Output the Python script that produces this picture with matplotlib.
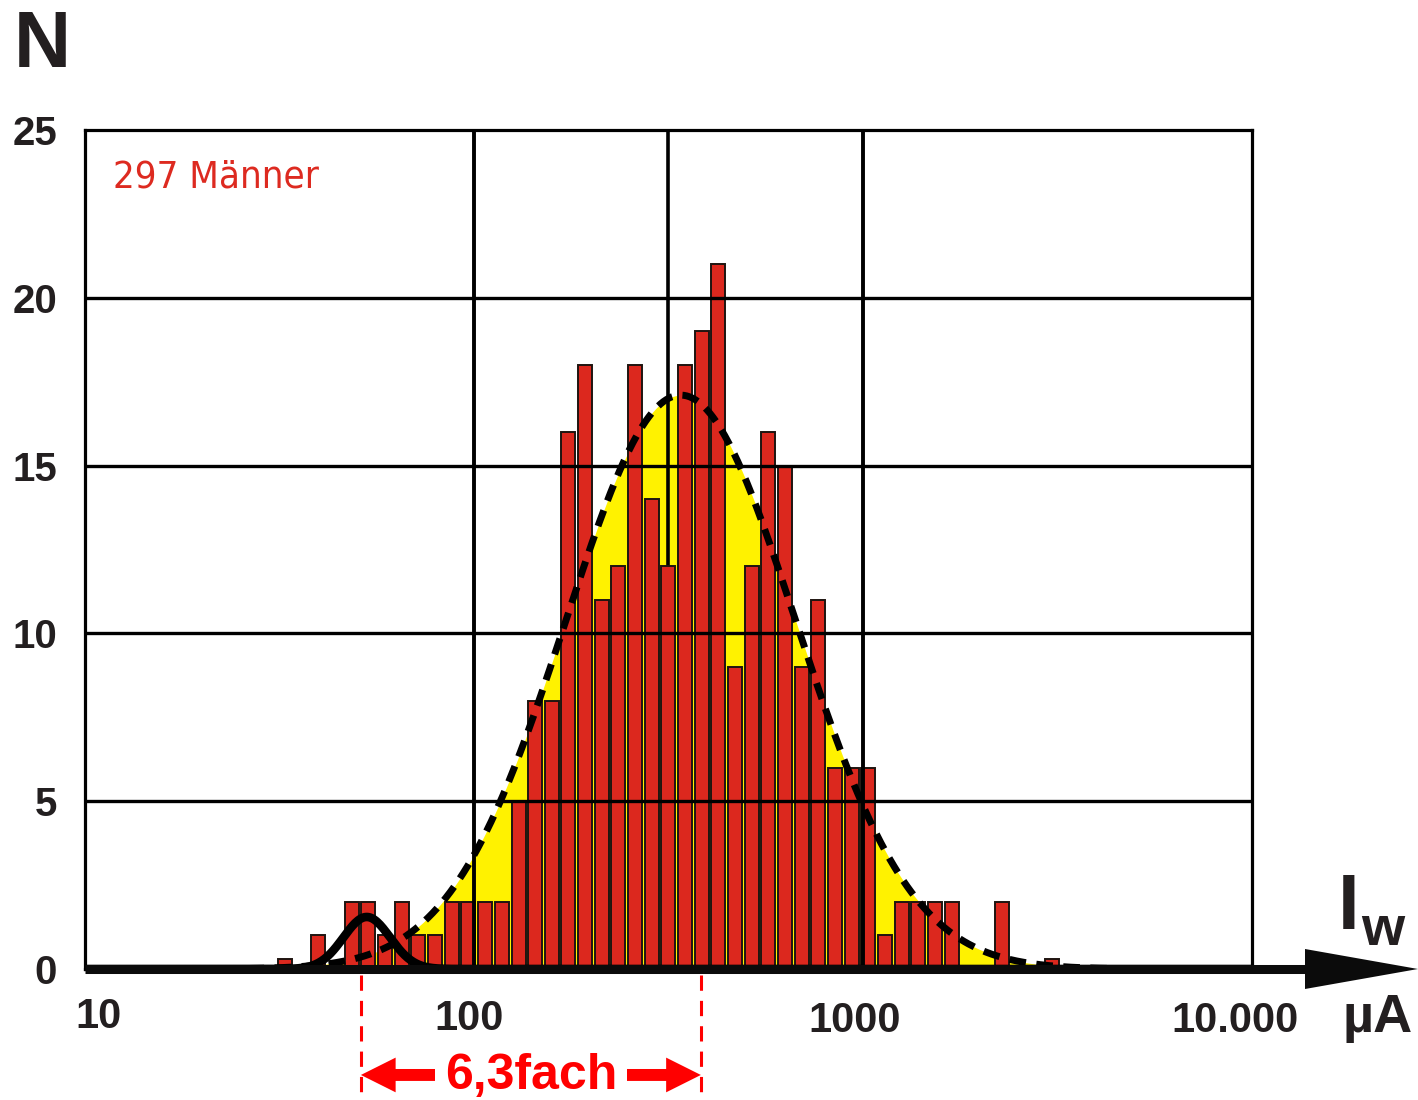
import numpy as np
import matplotlib.pyplot as plt
import matplotlib.transforms as mtransforms
from matplotlib.lines import Line2D
from matplotlib.patches import Polygon
from matplotlib.ticker import NullLocator

# histogram of 297 men: bin centres (µA, log axis) and counts
bin_centres = [32.7, 39.7, 48.6, 53.4, 59.0, 65.3, 71.8, 79.4, 87.8, 96.5,
               106.7, 118, 130.5, 143.5, 158.7, 174.4, 192.9, 213.3, 234.6, 259.4,
               286.8, 315.3, 348.6, 385.6, 424, 468.8, 518.4, 570, 630, 697,
               766, 847, 937, 1030, 1139, 1260, 1385, 1532, 1694, 2277, 3061]
counts = [0.3, 1, 2, 2, 1, 2, 1, 1, 2, 2,
          2, 2, 5, 8, 8, 16, 18, 11, 12, 18,
          14, 12, 18, 19, 21, 9, 12, 16, 15, 9,
          11, 6, 6, 6, 1, 2, 2, 2, 2, 2, 0.3]

# log-normal fits (amplitude, centre in µA, sigma in decades)
main_fit = (17.1, 340.0, 0.2956)
small_fit = (1.55, 53.0, 0.06)

# span of the "6,3fach" marker (µA)
span_lo, span_hi = 51.2, 383.0

ytick_vals = [0, 5, 10, 15, 20, 25]
xtick_vals = [10, 100, 1000, 10000]
xtick_labels = ['10', '100', '1000', '10.000']
grid_y = [5, 10, 15, 20]
grid_x_front = [100, 1000]
grid_x_back = [316.2]

BAR_RED = '#dc281e'
YELLOW = '#fff200'
INK = '#231f20'
RED = '#ff0000'

W, H = 1418, 1100
fig = plt.figure(figsize=(W / 100, H / 100), dpi=100)
ax = fig.add_axes([85 / W, 1 - 969 / H, (1252 - 85) / W, (969 - 130) / H])
ax.set_xscale('log')
ax.set_xlim(10, 10000)
ax.set_ylim(0, 25)
ax.xaxis.set_minor_locator(NullLocator())
ax.set_xticks([])

bold = dict(family=['Liberation Sans', 'DejaVu Sans'], weight='bold', color=INK)

ax.set_yticks(ytick_vals)
ax.set_yticklabels([str(v) for v in ytick_vals], fontsize=29, **bold)
ax.tick_params(axis='y', length=0, pad=20)

for s in ax.spines.values():
    s.set_linewidth(2.3)
    s.set_color('black')
    s.set_zorder(5)

# fitted curves
xs = np.logspace(1, 4, 800)
def lognorm(x, amp, centre, sig):
    return amp * np.exp(-0.5 * ((np.log10(x) - np.log10(centre)) / sig) ** 2)

main_curve = lognorm(xs, *main_fit)
small_curve = lognorm(xs, *small_fit)

ax.fill_between(xs, 0, main_curve, color=YELLOW, lw=0, zorder=1)

for gx in grid_x_back:
    ax.axvline(gx, color='black', lw=2.6, zorder=1.5)

# bars, fixed width on the log axis
half = 10 ** (14.5 / 389 / 2)
c = np.array(bin_centres)
lefts = c / half
ax.bar(lefts, counts, width=c * half - lefts, align='edge', color=BAR_RED,
       edgecolor='#1e1410', linewidth=1.4, zorder=2)

for gy in grid_y:
    ax.axhline(gy, color='black', lw=2.4, zorder=3)
for gx in grid_x_front:
    ax.axvline(gx, color='black', lw=2.8, zorder=3)

ax.plot(xs, main_curve, color='black', lw=5.0, dashes=(2.4, 1.5),
        dash_capstyle='butt', zorder=4)
ax.plot(xs, small_curve, color='black', lw=6.2, zorder=4)

# x-axis as thick arrow
def fx(px):
    return px / W
def fy(py):
    return 1 - py / H
fig.add_artist(Line2D([fx(85), fx(1310)], [fy(969), fy(969)], color='#0b0b0b',
                      lw=6.5, solid_capstyle='butt', zorder=6))
fig.add_artist(Polygon([[fx(1305), fy(949)], [fx(1418), fy(969)], [fx(1305), fy(989)]],
                       closed=True, color='#0b0b0b', lw=0, zorder=6))

# x tick labels
offsets = [(14, -59), (-5, -61), (-8, -63), (-17, -63)]
for v, lab, (dx, dy) in zip(xtick_vals, xtick_labels, offsets):
    ax.annotate(lab, xy=(v, 0), xycoords=('data', 'axes fraction'),
                xytext=(dx, dy), textcoords='offset pixels',
                ha='center', va='baseline', fontsize=30, annotation_clip=False, **bold)

# axis titles
fig.text(fx(14), fy(67), 'N', fontsize=57, ha='left', va='baseline', **bold)
fig.text(fx(1338), fy(929), 'I', fontsize=56, ha='left', va='baseline', **bold)
fig.text(fx(1361), fy(945), 'w', fontsize=40, ha='left', va='baseline', **bold)
fig.text(fx(1343), fy(1032), 'µA', fontsize=39, ha='left', va='baseline', **bold)

ax.text(0.024, 0.9309, '297 Männer', transform=ax.transAxes, fontsize=27.5,
        color='#dd2a20', family=['DejaVu Sans'], stretch='condensed',
        ha='left', va='baseline')

# span marker below the axis
trans = mtransforms.blended_transform_factory(ax.transData, ax.transAxes)
for xv in (span_lo, span_hi):
    ax.plot([xv, xv], [-0.007, -0.152], transform=trans, clip_on=False,
            color=RED, lw=2.2, dashes=(5, 3.3), zorder=6)

mid = np.sqrt(span_lo * span_hi)
arrow_y = -0.1263
for end in (span_lo, span_hi):
    ax.annotate('', xy=(end, arrow_y), xytext=(mid, arrow_y), xycoords=trans,
                arrowprops=dict(arrowstyle='simple,head_length=25,head_width=25,tail_width=8.6',
                                mutation_scale=1, fc=RED, ec='none',
                                shrinkA=0, shrinkB=0), annotation_clip=False, zorder=6)
ax.text(mid, -0.1275, '6,3fach', transform=trans, fontsize=36, color=RED,
        family=['Liberation Sans', 'DejaVu Sans'], weight='bold',
        ha='center', va='center', zorder=7,
        bbox=dict(boxstyle='square,pad=0.2', fc='white', ec='none'))

fig.savefig('out.png', dpi=100)
